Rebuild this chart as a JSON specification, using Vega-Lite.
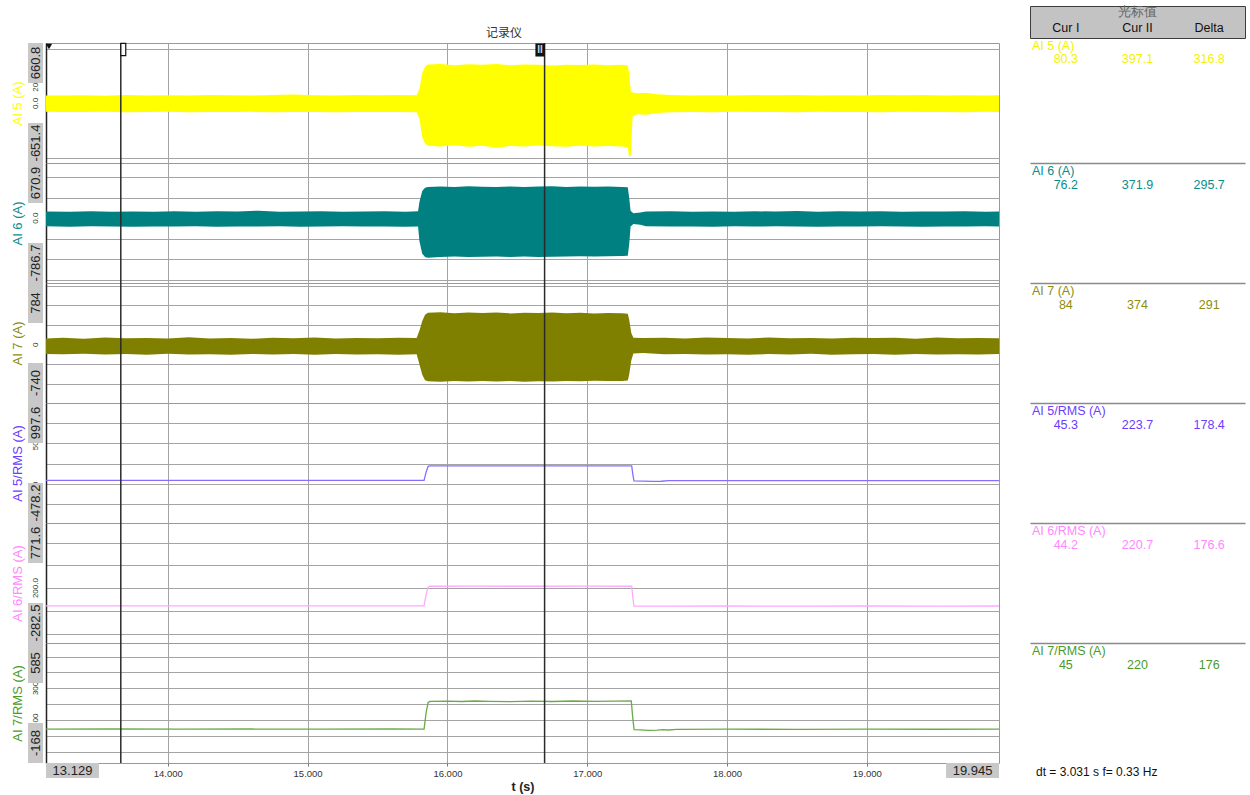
{
"$schema": "https://vega.github.io/schema/vega-lite/v6.json",
"background": "white",
"padding": {"left": 11, "top": 5, "right": 5, "bottom": 5},
"config": {"view": {"stroke": null}, "font": "Liberation Sans", "axis": {"labelFont": "Liberation Sans", "titleFont": "Liberation Sans"}},
"datasets": {
"header": [{"row":"t","col":"Cur II","text":"光标值"},{"row":"c","col":"Cur I","text":"Cur I"},{"row":"c","col":"Cur II","text":"Cur II"},{"row":"c","col":"Delta","text":"Delta"}],
"table": [
{"panel":1,"row":"name","col":"Cur I","text":"AI 5 (A)"},{"panel":1,"row":"value","col":"Cur I","text":"80.3"},{"panel":1,"row":"value","col":"Cur II","text":"397.1"},{"panel":1,"row":"value","col":"Delta","text":"316.8"},
{"panel":2,"row":"name","col":"Cur I","text":"AI 6 (A)"},{"panel":2,"row":"value","col":"Cur I","text":"76.2"},{"panel":2,"row":"value","col":"Cur II","text":"371.9"},{"panel":2,"row":"value","col":"Delta","text":"295.7"},
{"panel":3,"row":"name","col":"Cur I","text":"AI 7 (A)"},{"panel":3,"row":"value","col":"Cur I","text":"84"},{"panel":3,"row":"value","col":"Cur II","text":"374"},{"panel":3,"row":"value","col":"Delta","text":"291"},
{"panel":4,"row":"name","col":"Cur I","text":"AI 5/RMS (A)"},{"panel":4,"row":"value","col":"Cur I","text":"45.3"},{"panel":4,"row":"value","col":"Cur II","text":"223.7"},{"panel":4,"row":"value","col":"Delta","text":"178.4"},
{"panel":5,"row":"name","col":"Cur I","text":"AI 6/RMS (A)"},{"panel":5,"row":"value","col":"Cur I","text":"44.2"},{"panel":5,"row":"value","col":"Cur II","text":"220.7"},{"panel":5,"row":"value","col":"Delta","text":"176.6"},
{"panel":6,"row":"name","col":"Cur I","text":"AI 7/RMS (A)"},{"panel":6,"row":"value","col":"Cur I","text":"45"},{"panel":6,"row":"value","col":"Cur II","text":"220"},{"panel":6,"row":"value","col":"Delta","text":"176"}
],
"ylabels": [{"panel":1,"value":200,"label":"200"},{"panel":1,"value":0,"label":"0.0"},{"panel":2,"value":0,"label":"0.0"},{"panel":3,"value":0,"label":"0"},{"panel":4,"value":500,"label":"500"},{"panel":4,"value":0,"label":"0"},{"panel":5,"value":200,"label":"200.0"},{"panel":6,"value":300,"label":"300"},{"panel":6,"value":100,"label":"100"}],
"boxes": [{"panel":1,"slot":"max","label":"660.8"},{"panel":1,"slot":"min","label":"-651.4"},{"panel":2,"slot":"max","label":"670.9"},{"panel":2,"slot":"min","label":"-786.7"},{"panel":3,"slot":"max","label":"784"},{"panel":3,"slot":"min","label":"-740"},{"panel":4,"slot":"max","label":"997.6"},{"panel":4,"slot":"min","label":"-478.2"},{"panel":5,"slot":"max","label":"771.6"},{"panel":5,"slot":"min","label":"-282.5"},{"panel":6,"slot":"max","label":"585"},{"panel":6,"slot":"min","label":"-168"}],
"xboxes": [{"slot":"lo","text":"13.129"},{"slot":"hi","text":"19.945"}],
"cursors": [{"t":13.664,"name":"I"},{"t":16.695,"name":"II"}],
"start": [{"t":13.129}],
"ai5": [{"t":13.129,"hi":88,"lo":-92},{"t":13.25,"hi":86,"lo":-95},{"t":13.4,"hi":90,"lo":-93},{"t":13.55,"hi":85,"lo":-90},{"t":13.7,"hi":92,"lo":-96},{"t":13.85,"hi":88,"lo":-94},{"t":14.0,"hi":90,"lo":-92},{"t":14.15,"hi":87,"lo":-97},{"t":14.3,"hi":93,"lo":-93},{"t":14.45,"hi":89,"lo":-95},{"t":14.6,"hi":86,"lo":-92},{"t":14.75,"hi":91,"lo":-96},{"t":14.9,"hi":97,"lo":-94},{"t":15.05,"hi":90,"lo":-93},{"t":15.2,"hi":88,"lo":-97},{"t":15.35,"hi":92,"lo":-94},{"t":15.5,"hi":89,"lo":-95},{"t":15.65,"hi":91,"lo":-93},{"t":15.78,"hi":90,"lo":-96},{"t":15.8,"hi":160,"lo":-170},{"t":15.82,"hi":330,"lo":-370},{"t":15.84,"hi":405,"lo":-440},{"t":15.86,"hi":425,"lo":-462},{"t":15.95,"hi":432,"lo":-470},{"t":16.05,"hi":418,"lo":-458},{"t":16.15,"hi":428,"lo":-475},{"t":16.25,"hi":422,"lo":-462},{"t":16.35,"hi":430,"lo":-485},{"t":16.45,"hi":418,"lo":-466},{"t":16.55,"hi":426,"lo":-472},{"t":16.65,"hi":424,"lo":-460},{"t":16.75,"hi":416,"lo":-468},{"t":16.85,"hi":422,"lo":-474},{"t":16.95,"hi":420,"lo":-462},{"t":17.05,"hi":426,"lo":-470},{"t":17.15,"hi":418,"lo":-466},{"t":17.25,"hi":422,"lo":-472},{"t":17.29,"hi":415,"lo":-480},{"t":17.3,"hi":330,"lo":-590},{"t":17.312,"hi":130,"lo":-560},{"t":17.325,"hi":120,"lo":-140},{"t":17.36,"hi":112,"lo":-118},{"t":17.42,"hi":118,"lo":-124},{"t":17.5,"hi":100,"lo":-106},{"t":17.6,"hi":92,"lo":-97},{"t":17.75,"hi":88,"lo":-93},{"t":17.9,"hi":90,"lo":-96},{"t":18.05,"hi":86,"lo":-92},{"t":18.2,"hi":91,"lo":-95},{"t":18.35,"hi":89,"lo":-93},{"t":18.5,"hi":93,"lo":-96},{"t":18.65,"hi":88,"lo":-92},{"t":18.8,"hi":90,"lo":-95},{"t":18.95,"hi":86,"lo":-93},{"t":19.1,"hi":91,"lo":-96},{"t":19.25,"hi":89,"lo":-92},{"t":19.4,"hi":92,"lo":-95},{"t":19.55,"hi":88,"lo":-93},{"t":19.7,"hi":90,"lo":-96},{"t":19.85,"hi":87,"lo":-92},{"t":19.945,"hi":89,"lo":-94}],
"ai6": [{"t":13.129,"hi":82,"lo":-98},{"t":13.3,"hi":80,"lo":-102},{"t":13.45,"hi":85,"lo":-97},{"t":13.6,"hi":78,"lo":-100},{"t":13.75,"hi":83,"lo":-104},{"t":13.9,"hi":80,"lo":-99},{"t":14.05,"hi":86,"lo":-101},{"t":14.2,"hi":79,"lo":-97},{"t":14.35,"hi":84,"lo":-103},{"t":14.5,"hi":81,"lo":-99},{"t":14.65,"hi":92,"lo":-100},{"t":14.8,"hi":80,"lo":-98},{"t":14.95,"hi":83,"lo":-102},{"t":15.1,"hi":85,"lo":-100},{"t":15.25,"hi":79,"lo":-97},{"t":15.4,"hi":82,"lo":-101},{"t":15.55,"hi":86,"lo":-99},{"t":15.7,"hi":80,"lo":-103},{"t":15.79,"hi":84,"lo":-100},{"t":15.8,"hi":200,"lo":-280},{"t":15.82,"hi":330,"lo":-430},{"t":15.84,"hi":370,"lo":-470},{"t":15.86,"hi":378,"lo":-480},{"t":15.95,"hi":385,"lo":-470},{"t":16.05,"hi":380,"lo":-465},{"t":16.15,"hi":388,"lo":-472},{"t":16.25,"hi":382,"lo":-468},{"t":16.35,"hi":378,"lo":-465},{"t":16.45,"hi":386,"lo":-470},{"t":16.55,"hi":380,"lo":-466},{"t":16.65,"hi":384,"lo":-470},{"t":16.75,"hi":388,"lo":-468},{"t":16.85,"hi":380,"lo":-465},{"t":16.95,"hi":384,"lo":-462},{"t":17.05,"hi":382,"lo":-466},{"t":17.15,"hi":386,"lo":-463},{"t":17.25,"hi":380,"lo":-460},{"t":17.29,"hi":375,"lo":-455},{"t":17.3,"hi":250,"lo":-320},{"t":17.31,"hi":90,"lo":-100},{"t":17.33,"hi":60,"lo":-70},{"t":17.38,"hi":70,"lo":-80},{"t":17.42,"hi":82,"lo":-98},{"t":17.6,"hi":84,"lo":-100},{"t":17.75,"hi":80,"lo":-99},{"t":17.9,"hi":83,"lo":-102},{"t":18.05,"hi":79,"lo":-98},{"t":18.2,"hi":85,"lo":-101},{"t":18.35,"hi":81,"lo":-97},{"t":18.5,"hi":88,"lo":-100},{"t":18.65,"hi":80,"lo":-103},{"t":18.8,"hi":84,"lo":-99},{"t":18.95,"hi":82,"lo":-101},{"t":19.1,"hi":86,"lo":-98},{"t":19.25,"hi":80,"lo":-100},{"t":19.4,"hi":83,"lo":-102},{"t":19.55,"hi":81,"lo":-99},{"t":19.7,"hi":85,"lo":-101},{"t":19.85,"hi":80,"lo":-98},{"t":19.945,"hi":83,"lo":-100}],
"ai7": [{"t":13.129,"hi":80,"lo":-118},{"t":13.25,"hi":88,"lo":-122},{"t":13.4,"hi":75,"lo":-115},{"t":13.55,"hi":92,"lo":-125},{"t":13.7,"hi":82,"lo":-119},{"t":13.85,"hi":86,"lo":-128},{"t":14.0,"hi":78,"lo":-116},{"t":14.15,"hi":94,"lo":-124},{"t":14.3,"hi":80,"lo":-120},{"t":14.45,"hi":87,"lo":-127},{"t":14.6,"hi":76,"lo":-117},{"t":14.75,"hi":90,"lo":-123},{"t":14.9,"hi":83,"lo":-119},{"t":15.05,"hi":91,"lo":-126},{"t":15.2,"hi":79,"lo":-118},{"t":15.35,"hi":86,"lo":-124},{"t":15.5,"hi":82,"lo":-121},{"t":15.65,"hi":89,"lo":-127},{"t":15.78,"hi":84,"lo":-120},{"t":15.8,"hi":180,"lo":-250},{"t":15.82,"hi":300,"lo":-380},{"t":15.84,"hi":380,"lo":-450},{"t":15.86,"hi":405,"lo":-465},{"t":15.95,"hi":412,"lo":-470},{"t":16.05,"hi":400,"lo":-462},{"t":16.15,"hi":408,"lo":-468},{"t":16.25,"hi":402,"lo":-460},{"t":16.35,"hi":410,"lo":-466},{"t":16.45,"hi":398,"lo":-462},{"t":16.55,"hi":406,"lo":-470},{"t":16.65,"hi":402,"lo":-464},{"t":16.75,"hi":409,"lo":-466},{"t":16.85,"hi":400,"lo":-460},{"t":16.95,"hi":405,"lo":-464},{"t":17.05,"hi":398,"lo":-458},{"t":17.15,"hi":404,"lo":-462},{"t":17.25,"hi":400,"lo":-460},{"t":17.29,"hi":395,"lo":-455},{"t":17.3,"hi":320,"lo":-380},{"t":17.315,"hi":150,"lo":-200},{"t":17.33,"hi":90,"lo":-110},{"t":17.4,"hi":85,"lo":-105},{"t":17.55,"hi":88,"lo":-121},{"t":17.7,"hi":80,"lo":-117},{"t":17.85,"hi":91,"lo":-125},{"t":18.0,"hi":84,"lo":-120},{"t":18.15,"hi":78,"lo":-127},{"t":18.3,"hi":93,"lo":-118},{"t":18.45,"hi":82,"lo":-124},{"t":18.6,"hi":87,"lo":-116},{"t":18.75,"hi":79,"lo":-126},{"t":18.9,"hi":90,"lo":-121},{"t":19.05,"hi":84,"lo":-119},{"t":19.2,"hi":88,"lo":-128},{"t":19.35,"hi":77,"lo":-117},{"t":19.5,"hi":92,"lo":-123},{"t":19.65,"hi":83,"lo":-120},{"t":19.8,"hi":86,"lo":-125},{"t":19.945,"hi":81,"lo":-119}],
"rms5": [{"t":13.129,"v":45.2},{"t":13.6,"v":45.6},{"t":14.1,"v":45.0},{"t":14.6,"v":45.4},{"t":15.1,"v":45.1},{"t":15.6,"v":45.5},{"t":15.833,"v":45.3},{"t":15.848,"v":150},{"t":15.862,"v":218},{"t":15.875,"v":223.5},{"t":16.2,"v":223.8},{"t":16.6,"v":223.7},{"t":17.0,"v":223.9},{"t":17.318,"v":223.4},{"t":17.326,"v":120},{"t":17.334,"v":40},{"t":17.4,"v":36},{"t":17.47,"v":34},{"t":17.53,"v":35},{"t":17.58,"v":42},{"t":18.0,"v":42.5},{"t":18.5,"v":42.2},{"t":19.0,"v":42.6},{"t":19.5,"v":42.3},{"t":19.945,"v":42.5}],
"rms6": [{"t":13.129,"v":44.0},{"t":13.6,"v":44.4},{"t":14.1,"v":44.1},{"t":14.6,"v":44.3},{"t":15.1,"v":44.0},{"t":15.6,"v":44.4},{"t":15.833,"v":44.2},{"t":15.848,"v":145},{"t":15.862,"v":210},{"t":15.875,"v":216},{"t":16.2,"v":216.5},{"t":16.6,"v":216},{"t":17.0,"v":216.8},{"t":17.318,"v":216.2},{"t":17.326,"v":120},{"t":17.334,"v":42},{"t":17.45,"v":41},{"t":17.6,"v":42},{"t":18.0,"v":42.3},{"t":18.5,"v":42.0},{"t":19.0,"v":42.4},{"t":19.5,"v":42.1},{"t":19.945,"v":42.3}],
"rms7": [{"t":13.129,"v":45.0},{"t":13.6,"v":45.3},{"t":14.1,"v":44.8},{"t":14.6,"v":45.2},{"t":15.1,"v":44.9},{"t":15.6,"v":45.3},{"t":15.833,"v":45.0},{"t":15.848,"v":150},{"t":15.862,"v":212},{"t":15.875,"v":219},{"t":16.0,"v":220},{"t":16.1,"v":218},{"t":16.2,"v":221},{"t":16.3,"v":219},{"t":16.45,"v":217},{"t":16.6,"v":220},{"t":16.75,"v":218},{"t":16.9,"v":221},{"t":17.05,"v":219},{"t":17.2,"v":220},{"t":17.315,"v":221},{"t":17.325,"v":120},{"t":17.335,"v":42},{"t":17.38,"v":40},{"t":17.44,"v":37},{"t":17.5,"v":38},{"t":17.54,"v":41},{"t":17.58,"v":39},{"t":17.64,"v":43},{"t":18.0,"v":44},{"t":18.5,"v":43.6},{"t":19.0,"v":44.2},{"t":19.5,"v":43.8},{"t":19.945,"v":44}]
},
"spacing": 1,
"hconcat": [
{"vconcat": [
  {"width": 15, "height": 37, "view": {"stroke": "transparent"}, "data": {"values": [{"k": 1}]}, "mark": {"type": "text"}, "encoding": {"text": {"value": ""}}},
  {"width": 15, "height": 120, "resolve": {"scale": {"y": "independent"}},
   "layer": [
    {"data": {"name": "ylabels"}, "transform": [{"filter": "datum.panel == 1"}], "mark": {"type": "text", "angle": 270, "fontSize": 8, "color": "#333333"},
     "encoding": {"y": {"field": "value", "type": "quantitative", "scale": {"domain": [-651.4, 660.8], "nice": false, "zero": false}, "axis": null}, "text": {"field": "label"}}},
    {"data": {"name": "boxes"}, "transform": [{"filter": "datum.panel == 1"}], "mark": {"type": "rect", "color": "#c8c8c8"},
     "encoding": {"y": {"field": "slot", "type": "nominal", "scale": {"type": "band", "domain": ["max","mid","min"], "paddingInner": 0, "paddingOuter": 0}, "axis": {"title": "AI 5 (A)", "titleColor": "#ffff00", "titleFontSize": 13, "titleFontWeight": "normal", "titlePadding": 4, "labels": false, "ticks": false, "domain": false, "grid": false}}}},
    {"data": {"name": "boxes"}, "transform": [{"filter": "datum.panel == 1"}], "mark": {"type": "text", "angle": 270, "fontSize": 13, "color": "#222222"},
     "encoding": {"y": {"field": "slot", "type": "nominal", "bandPosition": 0.5, "scale": {"type": "band", "domain": ["max","mid","min"], "paddingInner": 0, "paddingOuter": 0}, "axis": null}, "text": {"field": "label"}}}
   ]},
  {"width": 15, "height": 120, "resolve": {"scale": {"y": "independent"}},
   "layer": [
    {"data": {"name": "ylabels"}, "transform": [{"filter": "datum.panel == 2"}], "mark": {"type": "text", "angle": 270, "fontSize": 8, "color": "#333333"},
     "encoding": {"y": {"field": "value", "type": "quantitative", "scale": {"domain": [-786.7, 670.9], "nice": false, "zero": false}, "axis": null}, "text": {"field": "label"}}},
    {"data": {"name": "boxes"}, "transform": [{"filter": "datum.panel == 2"}], "mark": {"type": "rect", "color": "#c8c8c8"},
     "encoding": {"y": {"field": "slot", "type": "nominal", "scale": {"type": "band", "domain": ["max","mid","min"], "paddingInner": 0, "paddingOuter": 0}, "axis": {"title": "AI 6 (A)", "titleColor": "#0a8c8c", "titleFontSize": 13, "titleFontWeight": "normal", "titlePadding": 4, "labels": false, "ticks": false, "domain": false, "grid": false}}}},
    {"data": {"name": "boxes"}, "transform": [{"filter": "datum.panel == 2"}], "mark": {"type": "text", "angle": 270, "fontSize": 13, "color": "#222222"},
     "encoding": {"y": {"field": "slot", "type": "nominal", "bandPosition": 0.5, "scale": {"type": "band", "domain": ["max","mid","min"], "paddingInner": 0, "paddingOuter": 0}, "axis": null}, "text": {"field": "label"}}}
   ]},
  {"width": 15, "height": 120, "resolve": {"scale": {"y": "independent"}},
   "layer": [
    {"data": {"name": "ylabels"}, "transform": [{"filter": "datum.panel == 3"}], "mark": {"type": "text", "angle": 270, "fontSize": 8, "color": "#333333"},
     "encoding": {"y": {"field": "value", "type": "quantitative", "scale": {"domain": [-740, 784], "nice": false, "zero": false}, "axis": null}, "text": {"field": "label"}}},
    {"data": {"name": "boxes"}, "transform": [{"filter": "datum.panel == 3"}], "mark": {"type": "rect", "color": "#c8c8c8"},
     "encoding": {"y": {"field": "slot", "type": "nominal", "scale": {"type": "band", "domain": ["max","mid","min"], "paddingInner": 0, "paddingOuter": 0}, "axis": {"title": "AI 7 (A)", "titleColor": "#8c8c10", "titleFontSize": 13, "titleFontWeight": "normal", "titlePadding": 4, "labels": false, "ticks": false, "domain": false, "grid": false}}}},
    {"data": {"name": "boxes"}, "transform": [{"filter": "datum.panel == 3"}], "mark": {"type": "text", "angle": 270, "fontSize": 13, "color": "#222222"},
     "encoding": {"y": {"field": "slot", "type": "nominal", "bandPosition": 0.5, "scale": {"type": "band", "domain": ["max","mid","min"], "paddingInner": 0, "paddingOuter": 0}, "axis": null}, "text": {"field": "label"}}}
   ]},
  {"width": 15, "height": 120, "resolve": {"scale": {"y": "independent"}},
   "layer": [
    {"data": {"name": "ylabels"}, "transform": [{"filter": "datum.panel == 4"}], "mark": {"type": "text", "angle": 270, "fontSize": 8, "color": "#333333"},
     "encoding": {"y": {"field": "value", "type": "quantitative", "scale": {"domain": [-478.2, 997.6], "nice": false, "zero": false}, "axis": null}, "text": {"field": "label"}}},
    {"data": {"name": "boxes"}, "transform": [{"filter": "datum.panel == 4"}], "mark": {"type": "rect", "color": "#c8c8c8"},
     "encoding": {"y": {"field": "slot", "type": "nominal", "scale": {"type": "band", "domain": ["max","mid","min"], "paddingInner": 0, "paddingOuter": 0}, "axis": {"title": "AI 5/RMS (A)", "titleColor": "#6a3cff", "titleFontSize": 13, "titleFontWeight": "normal", "titlePadding": 4, "labels": false, "ticks": false, "domain": false, "grid": false}}}},
    {"data": {"name": "boxes"}, "transform": [{"filter": "datum.panel == 4"}], "mark": {"type": "text", "angle": 270, "fontSize": 13, "color": "#222222"},
     "encoding": {"y": {"field": "slot", "type": "nominal", "bandPosition": 0.5, "scale": {"type": "band", "domain": ["max","mid","min"], "paddingInner": 0, "paddingOuter": 0}, "axis": null}, "text": {"field": "label"}}}
   ]},
  {"width": 15, "height": 120, "resolve": {"scale": {"y": "independent"}},
   "layer": [
    {"data": {"name": "ylabels"}, "transform": [{"filter": "datum.panel == 5"}], "mark": {"type": "text", "angle": 270, "fontSize": 8, "color": "#333333"},
     "encoding": {"y": {"field": "value", "type": "quantitative", "scale": {"domain": [-282.5, 771.6], "nice": false, "zero": false}, "axis": null}, "text": {"field": "label"}}},
    {"data": {"name": "boxes"}, "transform": [{"filter": "datum.panel == 5"}], "mark": {"type": "rect", "color": "#c8c8c8"},
     "encoding": {"y": {"field": "slot", "type": "nominal", "scale": {"type": "band", "domain": ["max","mid","min"], "paddingInner": 0, "paddingOuter": 0}, "axis": {"title": "AI 6/RMS (A)", "titleColor": "#ff88ff", "titleFontSize": 13, "titleFontWeight": "normal", "titlePadding": 4, "labels": false, "ticks": false, "domain": false, "grid": false}}}},
    {"data": {"name": "boxes"}, "transform": [{"filter": "datum.panel == 5"}], "mark": {"type": "text", "angle": 270, "fontSize": 13, "color": "#222222"},
     "encoding": {"y": {"field": "slot", "type": "nominal", "bandPosition": 0.5, "scale": {"type": "band", "domain": ["max","mid","min"], "paddingInner": 0, "paddingOuter": 0}, "axis": null}, "text": {"field": "label"}}}
   ]},
  {"width": 15, "height": 120, "resolve": {"scale": {"y": "independent"}},
   "layer": [
    {"data": {"name": "ylabels"}, "transform": [{"filter": "datum.panel == 6"}], "mark": {"type": "text", "angle": 270, "fontSize": 8, "color": "#333333"},
     "encoding": {"y": {"field": "value", "type": "quantitative", "scale": {"domain": [-168, 585], "nice": false, "zero": false}, "axis": null}, "text": {"field": "label"}}},
    {"data": {"name": "boxes"}, "transform": [{"filter": "datum.panel == 6"}], "mark": {"type": "rect", "color": "#c8c8c8"},
     "encoding": {"y": {"field": "slot", "type": "nominal", "scale": {"type": "band", "domain": ["max","mid","min"], "paddingInner": 0, "paddingOuter": 0}, "axis": {"title": "AI 7/RMS (A)", "titleColor": "#4a9a2a", "titleFontSize": 13, "titleFontWeight": "normal", "titlePadding": 4, "labels": false, "ticks": false, "domain": false, "grid": false}}}},
    {"data": {"name": "boxes"}, "transform": [{"filter": "datum.panel == 6"}], "mark": {"type": "text", "angle": 270, "fontSize": 13, "color": "#222222"},
     "encoding": {"y": {"field": "slot", "type": "nominal", "bandPosition": 0.5, "scale": {"type": "band", "domain": ["max","mid","min"], "paddingInner": 0, "paddingOuter": 0}, "axis": null}, "text": {"field": "label"}}}
   ]}
 ], "spacing": 0, "bounds": "flush"},

{"vconcat": [
  {"width": 953, "height": 37, "view": {"stroke": "transparent"}, "data": {"values": [{"text": "记录仪"}]}, "mark": {"type": "text", "font": "Noto Sans CJK SC", "fontSize": 12, "color": "#333333", "dx": -18.5, "dy": 8.5}, "encoding": {"text": {"field": "text"}}},
  {"width": 953, "height": 120, "view": {"stroke": "#999999"},
   "layer": [
    {"data": {"name": "ai5"}, "mark": {"type": "area", "color": "#ffff00", "clip": true},
     "encoding": {
       "x": {"field": "t", "type": "quantitative", "scale": {"domain": [13.129, 19.945], "nice": false, "zero": false}, "axis": {"values": [14,15,16,17,18,19], "grid": true, "gridColor": "#a4a4a4", "labels": false, "ticks": false, "domain": false, "title": null}},
       "y": {"field": "hi", "type": "quantitative", "scale": {"domain": [-651.4, 660.8], "nice": false, "zero": false}, "axis": {"values": [-600,-400,-200,0,200,400,600], "grid": true, "gridColor": "#a4a4a4", "labels": false, "ticks": false, "domain": true, "domainColor": "#222222", "domainWidth": 1.5, "title": null}},
       "y2": {"field": "lo"}}},
    {"data": {"name": "cursors"}, "mark": {"type": "rule", "color": "#2a2a2a", "strokeWidth": 1.5},
     "encoding": {"x": {"field": "t", "type": "quantitative", "scale": {"domain": [13.129, 19.945], "nice": false, "zero": false}}}},
    {"data": {"name": "start"}, "mark": {"type": "point", "shape": "triangle-down", "filled": true, "color": "#111111", "size": 40, "opacity": 1, "xOffset": 3, "yOffset": 3.5},
     "encoding": {"x": {"field": "t", "type": "quantitative", "scale": {"domain": [13.129, 19.945], "nice": false, "zero": false}}, "y": {"datum": 660.8, "type": "quantitative", "scale": {"domain": [-651.4, 660.8], "nice": false, "zero": false}}}},
    {"data": {"name": "cursors"}, "transform": [{"filter": "datum.name == 'I'"}], "mark": {"type": "point", "shape": "M-0.4,-1H0.4V1H-0.4Z", "filled": true, "fill": "#ffffff", "stroke": "#111111", "strokeWidth": 1.2, "size": 150, "opacity": 1, "xOffset": 2.5, "yOffset": 6.5},
     "encoding": {"x": {"field": "t", "type": "quantitative", "scale": {"domain": [13.129, 19.945], "nice": false, "zero": false}}, "y": {"datum": 660.8, "type": "quantitative", "scale": {"domain": [-651.4, 660.8], "nice": false, "zero": false}}}},
    {"data": {"name": "cursors"}, "transform": [{"filter": "datum.name == 'II'"}], "mark": {"type": "point", "shape": "M-0.72,-1H0.72V1H-0.72Z", "filled": true, "fill": "#111111", "strokeWidth": 0, "size": 170, "opacity": 1, "xOffset": -4.5, "yOffset": 7},
     "encoding": {"x": {"field": "t", "type": "quantitative", "scale": {"domain": [13.129, 19.945], "nice": false, "zero": false}}, "y": {"datum": 660.8, "type": "quantitative", "scale": {"domain": [-651.4, 660.8], "nice": false, "zero": false}}}},
    {"data": {"name": "cursors"}, "transform": [{"filter": "datum.name == 'II'"}], "mark": {"type": "text", "fontSize": 10, "fontWeight": "bold", "color": "#c8d4e0", "xOffset": -4.5, "yOffset": 7, "baseline": "middle"},
     "encoding": {"x": {"field": "t", "type": "quantitative", "scale": {"domain": [13.129, 19.945], "nice": false, "zero": false}}, "y": {"datum": 660.8, "type": "quantitative", "scale": {"domain": [-651.4, 660.8], "nice": false, "zero": false}}, "text": {"field": "name"}}}
   ]},
  {"width": 953, "height": 120, "view": {"stroke": "#999999"},
   "layer": [
    {"data": {"name": "ai6"}, "mark": {"type": "area", "color": "#008080", "clip": true},
     "encoding": {
       "x": {"field": "t", "type": "quantitative", "scale": {"domain": [13.129, 19.945], "nice": false, "zero": false}, "axis": {"values": [14,15,16,17,18,19], "grid": true, "gridColor": "#a4a4a4", "labels": false, "ticks": false, "domain": false, "title": null}},
       "y": {"field": "hi", "type": "quantitative", "scale": {"domain": [-786.7, 670.9], "nice": false, "zero": false}, "axis": {"values": [-750,-500,-250,0,250,500], "grid": true, "gridColor": "#a4a4a4", "labels": false, "ticks": false, "domain": true, "domainColor": "#222222", "domainWidth": 1.5, "title": null}},
       "y2": {"field": "lo"}}},
    {"data": {"name": "cursors"}, "mark": {"type": "rule", "color": "#2a2a2a", "strokeWidth": 1.5},
     "encoding": {"x": {"field": "t", "type": "quantitative", "scale": {"domain": [13.129, 19.945], "nice": false, "zero": false}}}}
   ]},
  {"width": 953, "height": 120, "view": {"stroke": "#999999"},
   "layer": [
    {"data": {"name": "ai7"}, "mark": {"type": "area", "color": "#808000", "clip": true},
     "encoding": {
       "x": {"field": "t", "type": "quantitative", "scale": {"domain": [13.129, 19.945], "nice": false, "zero": false}, "axis": {"values": [14,15,16,17,18,19], "grid": true, "gridColor": "#a4a4a4", "labels": false, "ticks": false, "domain": false, "title": null}},
       "y": {"field": "hi", "type": "quantitative", "scale": {"domain": [-740, 784], "nice": false, "zero": false}, "axis": {"values": [-500,-250,0,250,500,750], "grid": true, "gridColor": "#a4a4a4", "labels": false, "ticks": false, "domain": true, "domainColor": "#222222", "domainWidth": 1.5, "title": null}},
       "y2": {"field": "lo"}}},
    {"data": {"name": "cursors"}, "mark": {"type": "rule", "color": "#2a2a2a", "strokeWidth": 1.5},
     "encoding": {"x": {"field": "t", "type": "quantitative", "scale": {"domain": [13.129, 19.945], "nice": false, "zero": false}}}}
   ]},
  {"width": 953, "height": 120, "view": {"stroke": "#999999"},
   "layer": [
    {"data": {"name": "rms5"}, "mark": {"type": "line", "color": "#8a6cff", "strokeWidth": 1.3, "clip": true},
     "encoding": {
       "x": {"field": "t", "type": "quantitative", "scale": {"domain": [13.129, 19.945], "nice": false, "zero": false}, "axis": {"values": [14,15,16,17,18,19], "grid": true, "gridColor": "#a4a4a4", "labels": false, "ticks": false, "domain": false, "title": null}},
       "y": {"field": "v", "type": "quantitative", "scale": {"domain": [-478.2, 997.6], "nice": false, "zero": false}, "axis": {"values": [-250,0,250,500,750], "grid": true, "gridColor": "#a4a4a4", "labels": false, "ticks": false, "domain": true, "domainColor": "#222222", "domainWidth": 1.5, "title": null}}}},
    {"data": {"name": "cursors"}, "mark": {"type": "rule", "color": "#2a2a2a", "strokeWidth": 1.5},
     "encoding": {"x": {"field": "t", "type": "quantitative", "scale": {"domain": [13.129, 19.945], "nice": false, "zero": false}}}}
   ]},
  {"width": 953, "height": 120, "view": {"stroke": "#999999"},
   "layer": [
    {"data": {"name": "rms6"}, "mark": {"type": "line", "color": "#ffa8ff", "strokeWidth": 1.3, "clip": true},
     "encoding": {
       "x": {"field": "t", "type": "quantitative", "scale": {"domain": [13.129, 19.945], "nice": false, "zero": false}, "axis": {"values": [14,15,16,17,18,19], "grid": true, "gridColor": "#a4a4a4", "labels": false, "ticks": false, "domain": false, "title": null}},
       "y": {"field": "v", "type": "quantitative", "scale": {"domain": [-282.5, 771.6], "nice": false, "zero": false}, "axis": {"values": [-200,0,200,400,600], "grid": true, "gridColor": "#a4a4a4", "labels": false, "ticks": false, "domain": true, "domainColor": "#222222", "domainWidth": 1.5, "title": null}}}},
    {"data": {"name": "cursors"}, "mark": {"type": "rule", "color": "#2a2a2a", "strokeWidth": 1.5},
     "encoding": {"x": {"field": "t", "type": "quantitative", "scale": {"domain": [13.129, 19.945], "nice": false, "zero": false}}}}
   ]},
  {"width": 953, "height": 120, "view": {"stroke": "#999999"},
   "layer": [
    {"data": {"name": "rms7"}, "mark": {"type": "line", "color": "#6aaa48", "strokeWidth": 1.3, "clip": true},
     "encoding": {
       "x": {"field": "t", "type": "quantitative", "scale": {"domain": [13.129, 19.945], "nice": false, "zero": false}, "axis": {"values": [14,15,16,17,18,19], "grid": true, "gridColor": "#a4a4a4", "labels": true, "format": ".3f", "labelFontSize": 9.5, "labelColor": "#333333", "labelPadding": 2, "ticks": true, "tickSize": 3, "tickColor": "#777777", "domain": false, "title": "t (s)", "titleFontSize": 12.5, "titleFontWeight": "bold", "titleColor": "#222222", "titlePadding": 3}},
       "y": {"field": "v", "type": "quantitative", "scale": {"domain": [-168, 585], "nice": false, "zero": false}, "axis": {"values": [-100,0,100,200,300,400,500], "grid": true, "gridColor": "#a4a4a4", "labels": false, "ticks": false, "domain": true, "domainColor": "#222222", "domainWidth": 1.5, "title": null}}}},
    {"data": {"name": "cursors"}, "mark": {"type": "rule", "color": "#2a2a2a", "strokeWidth": 1.5},
     "encoding": {"x": {"field": "t", "type": "quantitative", "scale": {"domain": [13.129, 19.945], "nice": false, "zero": false}}}}
   ]},
  {"width": 953, "height": 15, "data": {"name": "xboxes"},
   "layer": [
    {"mark": {"type": "rect", "color": "#c8c8c8"},
     "encoding": {"x": {"field": "slot", "type": "nominal", "scale": {"type": "band", "domain": ["lo","s1","s2","s3","s4","s5","s6","s7","s8","s9","s10","s11","s12","s13","s14","s15","s16","hi"], "paddingInner": 0, "paddingOuter": 0}, "axis": null}}},
    {"mark": {"type": "text", "fontSize": 13, "color": "#222222"},
     "encoding": {"x": {"field": "slot", "type": "nominal", "bandPosition": 0.5, "scale": {"type": "band", "domain": ["lo","s1","s2","s3","s4","s5","s6","s7","s8","s9","s10","s11","s12","s13","s14","s15","s16","hi"], "paddingInner": 0, "paddingOuter": 0}, "axis": null}, "text": {"field": "text"}}}
   ]}
 ], "spacing": 0, "bounds": "flush"},

{"width": 25, "height": 37, "view": {"stroke": "transparent"}, "data": {"values": [{"k": 1}]}, "mark": {"type": "text"}, "encoding": {"text": {"value": ""}}},

{"vconcat": [
  {"width": 215, "height": 32, "view": {"fill": "#c3c3c3", "stroke": "#3c3c3c", "strokeWidth": 1}, "data": {"name": "header"},
   "mark": {"type": "text", "fontSize": 12.5},
   "encoding": {
     "x": {"field": "col", "type": "nominal", "bandPosition": 0.5, "scale": {"type": "band", "domain": ["Cur I","Cur II","Delta"], "paddingInner": 0, "paddingOuter": 0}, "axis": null},
     "y": {"field": "row", "type": "nominal", "scale": {"type": "point", "domain": ["t","c"], "range": [6, 22], "padding": 0}, "axis": null},
     "text": {"field": "text"},
     "color": {"field": "row", "type": "nominal", "scale": {"domain": ["t","c"], "range": ["#666666","#111111"]}, "legend": null}}},
  {"width": 215, "height": 5, "view": {"stroke": "transparent"}, "data": {"values": [{"k": 1}]}, "mark": {"type": "text"}, "encoding": {"text": {"value": ""}}},
  {"width": 215, "height": 120, "data": {"name": "table"}, "transform": [{"filter": "datum.panel == 1"}],
   "layer": [
    {"transform": [{"filter": "datum.row == 'name'"}], "mark": {"type": "text", "align": "left", "dx": 2, "fontSize": 12.5, "color": "#f2f200"},
     "encoding": {"x": {"field": "col", "type": "nominal", "bandPosition": 0, "scale": {"type": "band", "domain": ["Cur I","Cur II","Delta"], "paddingInner": 0, "paddingOuter": 0}, "axis": null}, "y": {"field": "row", "type": "nominal", "scale": {"type": "point", "domain": ["name","value"], "range": [2.5, 16], "padding": 0}, "axis": null}, "text": {"field": "text"}}},
    {"transform": [{"filter": "datum.row == 'value'"}], "mark": {"type": "text", "align": "center", "fontSize": 12.5, "color": "#f2f200"},
     "encoding": {"x": {"field": "col", "type": "nominal", "bandPosition": 0.5, "scale": {"type": "band", "domain": ["Cur I","Cur II","Delta"], "paddingInner": 0, "paddingOuter": 0}, "axis": null}, "y": {"field": "row", "type": "nominal", "scale": {"type": "point", "domain": ["name","value"], "range": [2.5, 16], "padding": 0}, "axis": null}, "text": {"field": "text"}}}
   ]},
  {"width": 215, "height": 120, "data": {"name": "table"}, "transform": [{"filter": "datum.panel == 2"}],
   "layer": [
    {"transform": [{"filter": "datum.row == 'name'"}], "mark": {"type": "text", "align": "left", "dx": 2, "fontSize": 12.5, "color": "#0a8c8c"},
     "encoding": {"x": {"field": "col", "type": "nominal", "bandPosition": 0, "scale": {"type": "band", "domain": ["Cur I","Cur II","Delta"], "paddingInner": 0, "paddingOuter": 0}, "axis": {"orient": "top", "labels": false, "ticks": false, "domain": true, "domainColor": "#8a8a8a", "domainWidth": 1.5, "title": null, "grid": false}}, "y": {"field": "row", "type": "nominal", "scale": {"type": "point", "domain": ["name","value"], "range": [8, 22], "padding": 0}, "axis": null}, "text": {"field": "text"}}},
    {"transform": [{"filter": "datum.row == 'value'"}], "mark": {"type": "text", "align": "center", "fontSize": 12.5, "color": "#0a8c8c"},
     "encoding": {"x": {"field": "col", "type": "nominal", "bandPosition": 0.5, "scale": {"type": "band", "domain": ["Cur I","Cur II","Delta"], "paddingInner": 0, "paddingOuter": 0}}, "y": {"field": "row", "type": "nominal", "scale": {"type": "point", "domain": ["name","value"], "range": [8, 22], "padding": 0}, "axis": null}, "text": {"field": "text"}}}
   ]},
  {"width": 215, "height": 120, "data": {"name": "table"}, "transform": [{"filter": "datum.panel == 3"}],
   "layer": [
    {"transform": [{"filter": "datum.row == 'name'"}], "mark": {"type": "text", "align": "left", "dx": 2, "fontSize": 12.5, "color": "#8c8c10"},
     "encoding": {"x": {"field": "col", "type": "nominal", "bandPosition": 0, "scale": {"type": "band", "domain": ["Cur I","Cur II","Delta"], "paddingInner": 0, "paddingOuter": 0}, "axis": {"orient": "top", "labels": false, "ticks": false, "domain": true, "domainColor": "#8a8a8a", "domainWidth": 1.5, "title": null, "grid": false}}, "y": {"field": "row", "type": "nominal", "scale": {"type": "point", "domain": ["name","value"], "range": [8, 22], "padding": 0}, "axis": null}, "text": {"field": "text"}}},
    {"transform": [{"filter": "datum.row == 'value'"}], "mark": {"type": "text", "align": "center", "fontSize": 12.5, "color": "#8c8c10"},
     "encoding": {"x": {"field": "col", "type": "nominal", "bandPosition": 0.5, "scale": {"type": "band", "domain": ["Cur I","Cur II","Delta"], "paddingInner": 0, "paddingOuter": 0}}, "y": {"field": "row", "type": "nominal", "scale": {"type": "point", "domain": ["name","value"], "range": [8, 22], "padding": 0}, "axis": null}, "text": {"field": "text"}}}
   ]},
  {"width": 215, "height": 120, "data": {"name": "table"}, "transform": [{"filter": "datum.panel == 4"}],
   "layer": [
    {"transform": [{"filter": "datum.row == 'name'"}], "mark": {"type": "text", "align": "left", "dx": 2, "fontSize": 12.5, "color": "#6a3cff"},
     "encoding": {"x": {"field": "col", "type": "nominal", "bandPosition": 0, "scale": {"type": "band", "domain": ["Cur I","Cur II","Delta"], "paddingInner": 0, "paddingOuter": 0}, "axis": {"orient": "top", "labels": false, "ticks": false, "domain": true, "domainColor": "#8a8a8a", "domainWidth": 1.5, "title": null, "grid": false}}, "y": {"field": "row", "type": "nominal", "scale": {"type": "point", "domain": ["name","value"], "range": [8, 22], "padding": 0}, "axis": null}, "text": {"field": "text"}}},
    {"transform": [{"filter": "datum.row == 'value'"}], "mark": {"type": "text", "align": "center", "fontSize": 12.5, "color": "#6a3cff"},
     "encoding": {"x": {"field": "col", "type": "nominal", "bandPosition": 0.5, "scale": {"type": "band", "domain": ["Cur I","Cur II","Delta"], "paddingInner": 0, "paddingOuter": 0}}, "y": {"field": "row", "type": "nominal", "scale": {"type": "point", "domain": ["name","value"], "range": [8, 22], "padding": 0}, "axis": null}, "text": {"field": "text"}}}
   ]},
  {"width": 215, "height": 120, "data": {"name": "table"}, "transform": [{"filter": "datum.panel == 5"}],
   "layer": [
    {"transform": [{"filter": "datum.row == 'name'"}], "mark": {"type": "text", "align": "left", "dx": 2, "fontSize": 12.5, "color": "#ff88ff"},
     "encoding": {"x": {"field": "col", "type": "nominal", "bandPosition": 0, "scale": {"type": "band", "domain": ["Cur I","Cur II","Delta"], "paddingInner": 0, "paddingOuter": 0}, "axis": {"orient": "top", "labels": false, "ticks": false, "domain": true, "domainColor": "#8a8a8a", "domainWidth": 1.5, "title": null, "grid": false}}, "y": {"field": "row", "type": "nominal", "scale": {"type": "point", "domain": ["name","value"], "range": [8, 22], "padding": 0}, "axis": null}, "text": {"field": "text"}}},
    {"transform": [{"filter": "datum.row == 'value'"}], "mark": {"type": "text", "align": "center", "fontSize": 12.5, "color": "#ff88ff"},
     "encoding": {"x": {"field": "col", "type": "nominal", "bandPosition": 0.5, "scale": {"type": "band", "domain": ["Cur I","Cur II","Delta"], "paddingInner": 0, "paddingOuter": 0}}, "y": {"field": "row", "type": "nominal", "scale": {"type": "point", "domain": ["name","value"], "range": [8, 22], "padding": 0}, "axis": null}, "text": {"field": "text"}}}
   ]},
  {"width": 215, "height": 120, "data": {"name": "table"}, "transform": [{"filter": "datum.panel == 6"}],
   "layer": [
    {"transform": [{"filter": "datum.row == 'name'"}], "mark": {"type": "text", "align": "left", "dx": 2, "fontSize": 12.5, "color": "#4a9a2a"},
     "encoding": {"x": {"field": "col", "type": "nominal", "bandPosition": 0, "scale": {"type": "band", "domain": ["Cur I","Cur II","Delta"], "paddingInner": 0, "paddingOuter": 0}, "axis": {"orient": "top", "labels": false, "ticks": false, "domain": true, "domainColor": "#8a8a8a", "domainWidth": 1.5, "title": null, "grid": false}}, "y": {"field": "row", "type": "nominal", "scale": {"type": "point", "domain": ["name","value"], "range": [8, 22], "padding": 0}, "axis": null}, "text": {"field": "text"}}},
    {"transform": [{"filter": "datum.row == 'value'"}], "mark": {"type": "text", "align": "center", "fontSize": 12.5, "color": "#4a9a2a"},
     "encoding": {"x": {"field": "col", "type": "nominal", "bandPosition": 0.5, "scale": {"type": "band", "domain": ["Cur I","Cur II","Delta"], "paddingInner": 0, "paddingOuter": 0}}, "y": {"field": "row", "type": "nominal", "scale": {"type": "point", "domain": ["name","value"], "range": [8, 22], "padding": 0}, "axis": null}, "text": {"field": "text"}}}
   ]},
  {"width": 215, "height": 15, "data": {"values": [{"col": "Cur I", "text": "dt = 3.031 s  f= 0.33 Hz"}]},
   "mark": {"type": "text", "align": "left", "dx": 6, "dy": 1.5, "fontSize": 12, "color": "#111111"},
   "encoding": {"x": {"field": "col", "type": "nominal", "bandPosition": 0, "scale": {"type": "band", "domain": ["Cur I","Cur II","Delta"], "paddingInner": 0, "paddingOuter": 0}, "axis": null}, "text": {"field": "text"}}}
 ], "spacing": 0, "bounds": "flush"}
]
}
